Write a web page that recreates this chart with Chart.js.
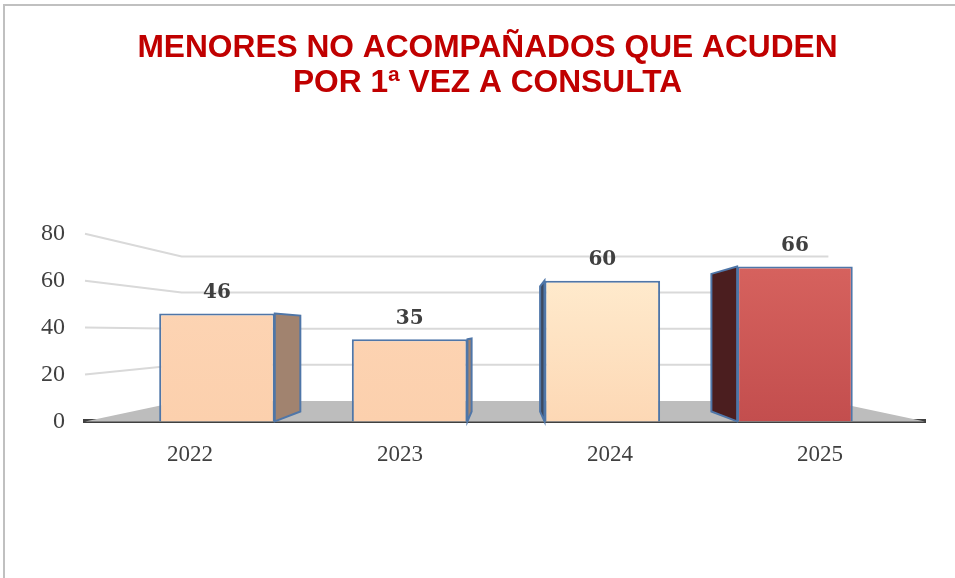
<!DOCTYPE html>
<html>
<head>
<meta charset="utf-8">
<script src="https://cdn.jsdelivr.net/npm/chart.js@4/dist/chart.umd.min.js"></script>
<style>
  html, body { margin: 0; padding: 0; background: #fff; overflow: hidden; }
  #frame {
    position: absolute; left: 3px; top: 4px; width: 980px; height: 600px;
    border-top: 2px solid #c0c0c0; border-left: 2px solid #c0c0c0;
  }
  #chart { position: absolute; left: 0; top: 0; }
</style>
</head>
<body>
<div id="frame"></div>
<canvas id="chart" width="955" height="578"></canvas>
<script>
// data
var years = ["2022", "2023", "2024", "2025"];
var menores = [46, 35, 60, 66];
var yTicks = [0, 20, 40, 60, 80];
var titleLines = ["MENORES NO ACOMPAÑADOS QUE ACUDEN", "POR 1ª VEZ A CONSULTA"];

// front / side colours of each 3d box
var frontTop = ["#fdd6b7", "#fdd6b7", "#fff0d4", "#da6661"];
var frontBottom = ["#fcd0ad", "#fcd0ad", "#fdd8b5", "#c34e4e"];
var sideColors = ["#a1836f", "#a1836f", "#3d4a60", "#4b1e1f"];
var edgeColor = "#4f76a8";

// perspective: vanishing point and depth of boxes / back wall
function vanish(chart) {
    var a = chart.chartArea;
    return { x: (a.left + a.right) / 2, y: a.top + (a.bottom - a.top) * 0.527 };
}
function project(p, v, t) {
    return { x: p.x + (v.x - p.x) * t, y: p.y + (v.y - p.y) * t };
}
var WALL = 0.23;
var BOX = 0.111;

const wallPlugin = {
    id: 'wall',
    beforeDatasetsDraw(chart) {
        var ctx = chart.ctx;
        var a = chart.chartArea;
        var yScale = chart.scales.y;
        var v = vanish(chart);

        ctx.save();
        // floor
        var fl = { x: a.left, y: a.bottom };
        var fr = { x: a.right, y: a.bottom };
        var bl = project(fl, v, WALL);
        var br = project(fr, v, WALL);
        ctx.fillStyle = "#bdbdbd";
        ctx.beginPath();
        ctx.moveTo(fl.x, fl.y);
        ctx.lineTo(bl.x, bl.y);
        ctx.lineTo(br.x, br.y);
        ctx.lineTo(fr.x, fr.y);
        ctx.closePath();
        ctx.fill();

        // grid lines bending back to the wall
        ctx.strokeStyle = "#d9d9d9";
        ctx.lineWidth = 2;
        yScale.ticks.forEach(function (t) {
            if (t.value === 0) return;
            var y = yScale.getPixelForValue(t.value);
            var p0 = { x: a.left, y: y };
            var b0 = project(p0, v, WALL);
            var b1 = project({ x: a.right, y: y }, v, WALL);
            ctx.beginPath();
            ctx.moveTo(p0.x, p0.y);
            ctx.lineTo(b0.x, b0.y);
            ctx.lineTo(b1.x, b1.y);
            ctx.stroke();
        });

        // side faces of the boxes
        var meta = chart.getDatasetMeta(0);
        meta.data.forEach(function (bar, i) {
            var half = bar.width / 2;
            var edgeX;
            if (bar.x + half < v.x) edgeX = bar.x + half;
            else if (bar.x - half > v.x) edgeX = bar.x - half;
            else return;
            var top = { x: edgeX, y: bar.y };
            var bot = { x: edgeX, y: bar.base };
            var top2 = project(top, v, BOX);
            var bot2 = project(bot, v, BOX);
            ctx.fillStyle = sideColors[i];
            ctx.strokeStyle = edgeColor;
            ctx.lineWidth = 2;
            ctx.beginPath();
            ctx.moveTo(top.x, top.y);
            ctx.lineTo(top2.x, top2.y);
            ctx.lineTo(bot2.x, bot2.y);
            ctx.lineTo(bot.x, bot.y);
            ctx.closePath();
            ctx.fill();
            ctx.stroke();
        });
        ctx.restore();
    },
    afterDatasetsDraw(chart) {
        // value labels above each box
        var ctx = chart.ctx;
        var meta = chart.getDatasetMeta(0);
        ctx.save();
        ctx.font = "bold 20px 'DejaVu Serif'";
        ctx.fillStyle = "#404040";
        ctx.textAlign = "center";
        ctx.textBaseline = "middle";
        meta.data.forEach(function (bar, i) {
            ctx.fillText(menores[i], bar.x, bar.y - 21);
        });
        ctx.restore();
    }
};

function frontFill(c) {
    var a = c.chart.chartArea;
    if (!a) return frontTop[c.dataIndex];
    var g = c.chart.ctx.createLinearGradient(0, a.top, 0, a.bottom);
    g.addColorStop(0, frontTop[c.dataIndex]);
    g.addColorStop(1, frontBottom[c.dataIndex]);
    return g;
}

const chartData = {
    datasets: [{
        label: "Menores",
        data: menores.map(function (v, i) { return { x: i, y: v }; }),
        backgroundColor: frontFill,
        borderColor: edgeColor,
        borderWidth: 2,
        barPercentage: 0.6,
        categoryPercentage: 1.0
    }]
};

const config = {
    type: 'bar',
    data: chartData,
    plugins: [wallPlugin],
    options: {
        responsive: false,
        animation: false,
        layout: { padding: { left: 38, right: 18, top: 8, bottom: 97 } },
        plugins: {
            legend: { display: false },
            tooltip: { enabled: false },
            title: {
                display: true,
                text: titleLines,
                color: "#c00000",
                font: { family: "'Liberation Sans', Arial, sans-serif", size: 31.7, weight: "bold", lineHeight: 1.1 },
                padding: { top: 23, bottom: 133 }
            }
        },
        scales: {
            x: {
                type: 'linear',
                display: false,
                offset: false,
                min: -0.685,
                max: 3.675,
                afterBuildTicks: function (axis) {
                    // one tick per box so the bar width follows the box spacing
                    axis.ticks = years.map(function (y, i) { return { value: i }; });
                }
            },
            x2: {
                type: 'category',
                position: 'bottom',
                labels: years,
                offset: true,
                grid: { display: false },
                border: { display: true, color: "#404040", width: 4 },
                ticks: {
                    color: "#404040",
                    padding: 12,
                    font: { family: "'Liberation Serif', serif", size: 23 }
                }
            },
            y: {
                min: 0,
                max: 80,
                afterBuildTicks: function (axis) {
                    axis.ticks = yTicks.map(function (v) { return { value: v }; });
                },
                afterFit: function (axis) {
                    axis.width = 47;
                },
                grid: { display: false, drawTicks: false },
                border: { display: false },
                ticks: {
                    color: "#404040",
                    padding: 20,
                    font: { family: "'Liberation Serif', serif", size: 24 }
                }
            },
            // empty right margin so the title stays centred like the original
            yRight: {
                position: 'right',
                display: true,
                grid: { display: false, drawTicks: false },
                border: { display: false },
                ticks: { display: false },
                afterFit: function (axis) {
                    axis.width = 12;
                }
            }
        }
    }
};

const barChart = new Chart(document.getElementById('chart'), config);
</script>
</body>
</html>
